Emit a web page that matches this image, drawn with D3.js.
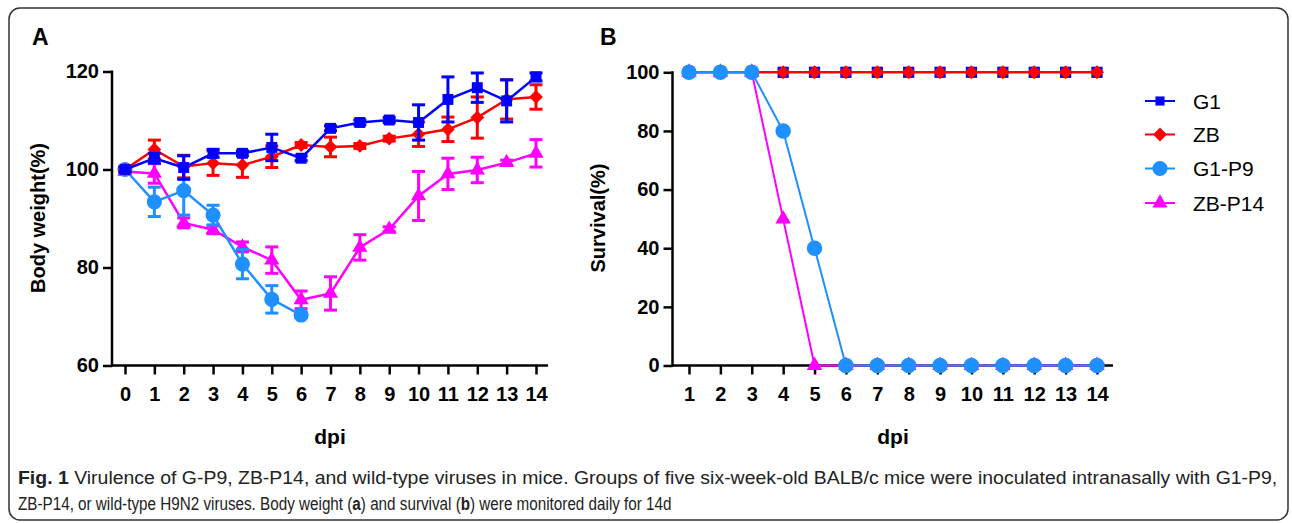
<!DOCTYPE html>
<html>
  <head>
    <script src="https://cdn.jsdelivr.net/npm/d3@7"></script>
    <style>
      body { margin: 0; background: #fff; }
      text { font-family: "Liberation Sans", Arial, sans-serif; }
    </style>
  </head>
  <body>
    <svg id="fig" width="1292" height="523"></svg>

    <script>
      // ---- data ----
      var days = [0, 1, 2, 3, 4, 5, 6, 7, 8, 9, 10, 11, 12, 13, 14];
      var g1Weight   = [100, 102.3, 100.4, 103.3, 103.3, 104.5, 102.3, 108.4, 109.6, 110.1, 109.6, 114.3, 116.7, 114, 118.9];
      var g1Err      = [0.5, 1, 2.4, 0.8, 0.5, 2.7, 0.5, 0.5, 0.5, 0.5, 3.6, 4.6, 3, 4.3, 0.8];
      var zbWeight   = [100, 104.1, 100.6, 101.3, 100.9, 102.6, 105, 104.6, 104.8, 106.3, 107.2, 108.2, 110.6, 114.3, 114.8];
      var zbErr      = [0.5, 1.9, 2.3, 2.5, 2.5, 2.2, 0.5, 2, 0.5, 0.5, 2.5, 2.5, 4.2, 4, 2.5];
      var g1p9Weight = [100, 93.4, 95.7, 90.7, 80.7, 73.5, 70.3];
      var g1p9Err    = [0.5, 3, 5, 2, 3, 2.8, 0.5];
      var zbp14Weight = [99.6, 99.2, 89.1, 87.7, 84.2, 81.5, 73.4, 74.7, 84.1, 87.8, 94.6, 99.1, 99.9, 101.4, 103.3];
      var zbp14Err    = [0.5, 2, 1, 0.8, 1, 2.7, 1.8, 3.4, 2.6, 0.5, 5, 3.2, 2.6, 0.5, 2.8];

      var survDays = [1, 2, 3, 4, 5, 6, 7, 8, 9, 10, 11, 12, 13, 14];
      var g1Surv    = [100, 100, 100, 100, 100, 100, 100, 100, 100, 100, 100, 100, 100, 100];
      var zbSurv    = [100, 100, 100, 100, 100, 100, 100, 100, 100, 100, 100, 100, 100, 100];
      var g1p9Surv  = [100, 100, 100, 80, 40, 0, 0, 0, 0, 0, 0, 0, 0, 0];
      var zbp14Surv = [100, 100, 100, 50, 0, 0, 0, 0, 0, 0, 0, 0, 0, 0];

      var weightTicks = [60, 80, 100, 120];
      var survTicks = [0, 20, 40, 60, 80, 100];
      var seriesNames = ["G1", "ZB", "G1-P9", "ZB-P14"];
      var seriesColors = ["#0000ff", "#ff0000", "#1e90ff", "#ff00ff"];

      var svg = d3.select("#fig");

      // figure frame
      svg.append("rect").attr("x", 9).attr("y", 8).attr("width", 1279).attr("height", 512)
        .attr("rx", 11).attr("fill", "none").attr("stroke", "#333").attr("stroke-width", 1.5);

      // marker shapes
      var shapes = [
        { type: d3.symbolSquare, size: 120, rot: 0 },
        { type: d3.symbolSquare, size: 95, rot: 45 },
        { type: d3.symbolCircle, size: 180, rot: 0 },
        { type: d3.symbolTriangle, size: 100, rot: 0 }
      ];
      function marker(g, i, x, y, scale) {
        var s = shapes[i];
        g.append("path")
          .attr("d", d3.symbol().type(s.type).size(s.size * (scale || 1))())
          .attr("transform", "translate(" + x + "," + y + ") rotate(" + s.rot + ")")
          .attr("fill", seriesColors[i]);
      }

      function styleAxis(g) {
        g.selectAll(".tick line").attr("stroke", "#000").attr("stroke-width", 2.5);
        g.selectAll(".tick text").attr("font-size", 20).attr("font-weight", "bold")
          .attr("fill", "#000").style("font-family", "'Liberation Sans', Arial, sans-serif");
        g.select(".domain").remove();
      }

      // ---- panel A ----
      var xA = d3.scaleLinear().domain([0, 14]).range([125, 536]);
      var yA = d3.scaleLinear().domain([60, 120]).range([365.5, 71.5]);

      var gA = svg.append("g");
      gA.append("g").attr("transform", "translate(112,0)")
        .call(d3.axisLeft(yA).tickValues(weightTicks).tickSize(9).tickPadding(4).tickSizeOuter(0))
        .call(styleAxis);
      gA.append("g").attr("transform", "translate(0,365.5)")
        .call(d3.axisBottom(xA).tickValues(days).tickSize(9).tickPadding(8).tickSizeOuter(0))
        .call(styleAxis)
        .selectAll(".tick text").attr("dy", "0.9em");
      gA.append("line").attr("x1", 112).attr("x2", 112).attr("y1", yA(120) - 1).attr("y2", yA(60) + 1.25)
        .attr("stroke", "#000").attr("stroke-width", 2.5);
      gA.append("line").attr("x1", 112).attr("x2", 548).attr("y1", yA(60)).attr("y2", yA(60))
        .attr("stroke", "#000").attr("stroke-width", 2.5);

      var weightSeries = [
        { v: g1Weight, e: g1Err },
        { v: zbWeight, e: zbErr },
        { v: g1p9Weight, e: g1p9Err },
        { v: zbp14Weight, e: zbp14Err }
      ];
      var drawOrderA = [3, 2, 1, 0];
      drawOrderA.forEach(function(i) {
        var s = weightSeries[i], c = seriesColors[i];
        var g = gA.append("g");
        var pts = s.v.map(function(v, k) { return [days[k], v, s.e[k]]; });
        pts.forEach(function(p) {
          var x = xA(p[0]);
          g.append("line").attr("x1", x).attr("x2", x).attr("y1", yA(p[1] + p[2])).attr("y2", yA(p[1] - p[2]))
            .attr("stroke", c).attr("stroke-width", 3);
          [p[1] + p[2], p[1] - p[2]].forEach(function(ev) {
            g.append("line").attr("x1", x - 6.5).attr("x2", x + 6.5).attr("y1", yA(ev)).attr("y2", yA(ev))
              .attr("stroke", c).attr("stroke-width", 3);
          });
        });
        g.append("path").datum(pts)
          .attr("d", d3.line().x(function(p) { return xA(p[0]); }).y(function(p) { return yA(p[1]); }))
          .attr("fill", "none").attr("stroke", c).attr("stroke-width", 2.5);
        pts.forEach(function(p) { marker(g, i, xA(p[0]), yA(p[1])); });
      });

      gA.append("text").attr("x", 32).attr("y", 45).attr("font-size", 23).attr("font-weight", "bold").text("A");
      gA.append("text").attr("transform", "translate(45,218) rotate(-90)").attr("text-anchor", "middle")
        .attr("font-size", 20).attr("font-weight", "bold").text("Body weight(%)");
      gA.append("text").attr("x", 330).attr("y", 444).attr("text-anchor", "middle")
        .attr("font-size", 21).attr("font-weight", "bold").text("dpi");

      // ---- panel B ----
      var xB = d3.scaleLinear().domain([1, 14]).range([689, 1097]);
      var yB = d3.scaleLinear().domain([0, 100]).range([365.5, 72.3]);

      var gB = svg.append("g");
      gB.append("g").attr("transform", "translate(672.5,0)")
        .call(d3.axisLeft(yB).tickValues(survTicks).tickSize(9).tickPadding(4).tickSizeOuter(0))
        .call(styleAxis);
      gB.append("g").attr("transform", "translate(0,365.5)")
        .call(d3.axisBottom(xB).tickValues(survDays).tickSize(9).tickPadding(8).tickSizeOuter(0))
        .call(styleAxis)
        .selectAll(".tick text").attr("dy", "0.9em");
      gB.append("line").attr("x1", 672.5).attr("x2", 672.5).attr("y1", yB(100) - 1).attr("y2", yB(0) + 1.25)
        .attr("stroke", "#000").attr("stroke-width", 2.5);
      gB.append("line").attr("x1", 672.5).attr("x2", 1113).attr("y1", yB(0)).attr("y2", yB(0))
        .attr("stroke", "#000").attr("stroke-width", 2.5);

      var survSeries = [g1Surv, zbSurv, g1p9Surv, zbp14Surv];
      var drawOrderB = [0, 1, 3, 2];
      drawOrderB.forEach(function(i) {
        var c = seriesColors[i];
        var g = gB.append("g");
        var pts = survSeries[i].map(function(v, k) { return [survDays[k], v]; });
        g.append("path").datum(pts)
          .attr("d", d3.line().x(function(p) { return xB(p[0]); }).y(function(p) { return yB(p[1]); }))
          .attr("fill", "none").attr("stroke", c).attr("stroke-width", 2);
        pts.forEach(function(p) { marker(g, i, xB(p[0]), yB(p[1]), 1.05); });
      });

      gB.append("text").attr("x", 600).attr("y", 45).attr("font-size", 23).attr("font-weight", "bold").text("B");
      gB.append("text").attr("transform", "translate(605,218) rotate(-90)").attr("text-anchor", "middle")
        .attr("font-size", 20).attr("font-weight", "bold").text("Survival(%)");
      gB.append("text").attr("x", 893).attr("y", 444).attr("text-anchor", "middle")
        .attr("font-size", 21).attr("font-weight", "bold").text("dpi");

      // legend
      var legendY = [101, 134.5, 168.5, 203];
      seriesNames.forEach(function(name, i) {
        var g = svg.append("g");
        g.append("line").attr("x1", 1145).attr("x2", 1175).attr("y1", legendY[i]).attr("y2", legendY[i])
          .attr("stroke", seriesColors[i]).attr("stroke-width", 2);
        marker(g, i, 1160, legendY[i], i === 0 ? 0.7 : 1);
        g.append("text").attr("x", 1193).attr("y", legendY[i] + 7.5).attr("font-size", 21).text(name);
      });

      // caption: narrow journal font imitated by squeezing each line to its width
      function captionLine(y, width, parts) {
        var g = svg.append("g");
        var t = g.append("text").attr("x", 0).attr("y", y).attr("font-size", 18.5).attr("fill", "#222");
        parts.forEach(function(p) {
          t.append("tspan").attr("font-weight", p[1] ? "bold" : "normal").text(p[0]);
        });
        var w = t.node().getComputedTextLength();
        g.attr("transform", "translate(18,0) scale(" + (width / w) + ",1)");
      }
      captionLine(484, 1260, [
        ["Fig. 1", true],
        [" Virulence of G-P9, ZB-P14, and wild-type viruses in mice. Groups of five six-week-old BALB/c mice were inoculated intranasally with G1-P9,", false]
      ]);
      captionLine(510, 654, [
        ["ZB-P14, or wild-type H9N2 viruses. Body weight (", false],
        ["a", true],
        [") and survival (", false],
        ["b", true],
        [") were monitored daily for 14d", false]
      ]);
    </script>
  </body>
</html>
